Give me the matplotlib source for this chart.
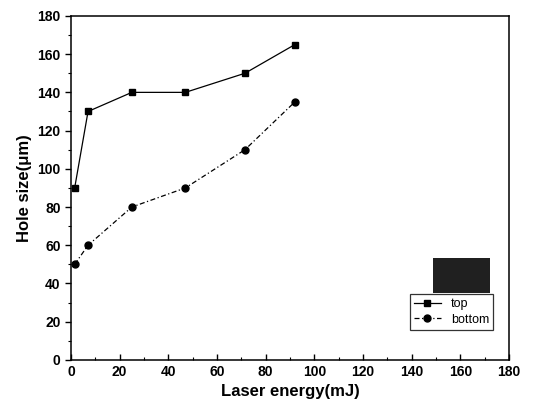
import matplotlib.pyplot as plt
from matplotlib.patches import Rectangle

# data
energy = [1.5, 7, 25, 47, 71.5, 92]
top = [90, 130, 140, 140, 150, 165]
bottom = [50, 60, 80, 90, 110, 135]

plt.rcParams['font.family'] = ['Liberation Sans', 'DejaVu Sans']

fig = plt.figure(figsize=(5.38, 4.19), dpi=100)
ax = fig.add_axes([0.132, 0.141, 0.814, 0.821])

ax.plot(energy, top, '-', color='black', lw=0.9, marker='s', ms=5, label='top')
ax.plot(energy, bottom, color='black', lw=0.9, ls=(0, (4, 2, 1, 2)), marker='o', ms=5, label='bottom')

ax.set_xlim(0, 180)
ax.set_ylim(0, 180)
ax.set_xticks(range(0, 181, 20))
ax.set_yticks(range(0, 181, 20))
ax.set_xticks(range(0, 181, 10), minor=True)
ax.set_yticks(range(0, 181, 10), minor=True)
ax.tick_params(which='major', length=4, width=1, labelsize=10)
ax.tick_params(which='minor', length=2.5, width=0.8)
ax.tick_params(axis='y', which='both', direction='out')
ax.tick_params(axis='x', which='both', direction='in')
for lab in ax.get_xticklabels() + ax.get_yticklabels():
    lab.set_fontweight('bold')
for s in ax.spines.values():
    s.set_linewidth(1.1)

ax.set_xlabel('Laser energy(mJ)', fontsize=12, fontweight='bold')
ax.set_ylabel('Hole size(\u03bcm)', fontsize=12, fontweight='bold')

# dark smudge above the legend in the scan
ax.add_patch(Rectangle((0.826, 0.195), 0.13, 0.1, transform=ax.transAxes,
                       facecolor='#202020', edgecolor='none'))

leg = ax.legend(loc='lower right', bbox_to_anchor=(0.978, 0.07), fontsize=9,
                frameon=True, fancybox=False, edgecolor='black',
                handlelength=2.2, borderpad=0.3, labelspacing=0.3)
leg.get_frame().set_linewidth(0.9)

fig.savefig('out.png', dpi=100)
